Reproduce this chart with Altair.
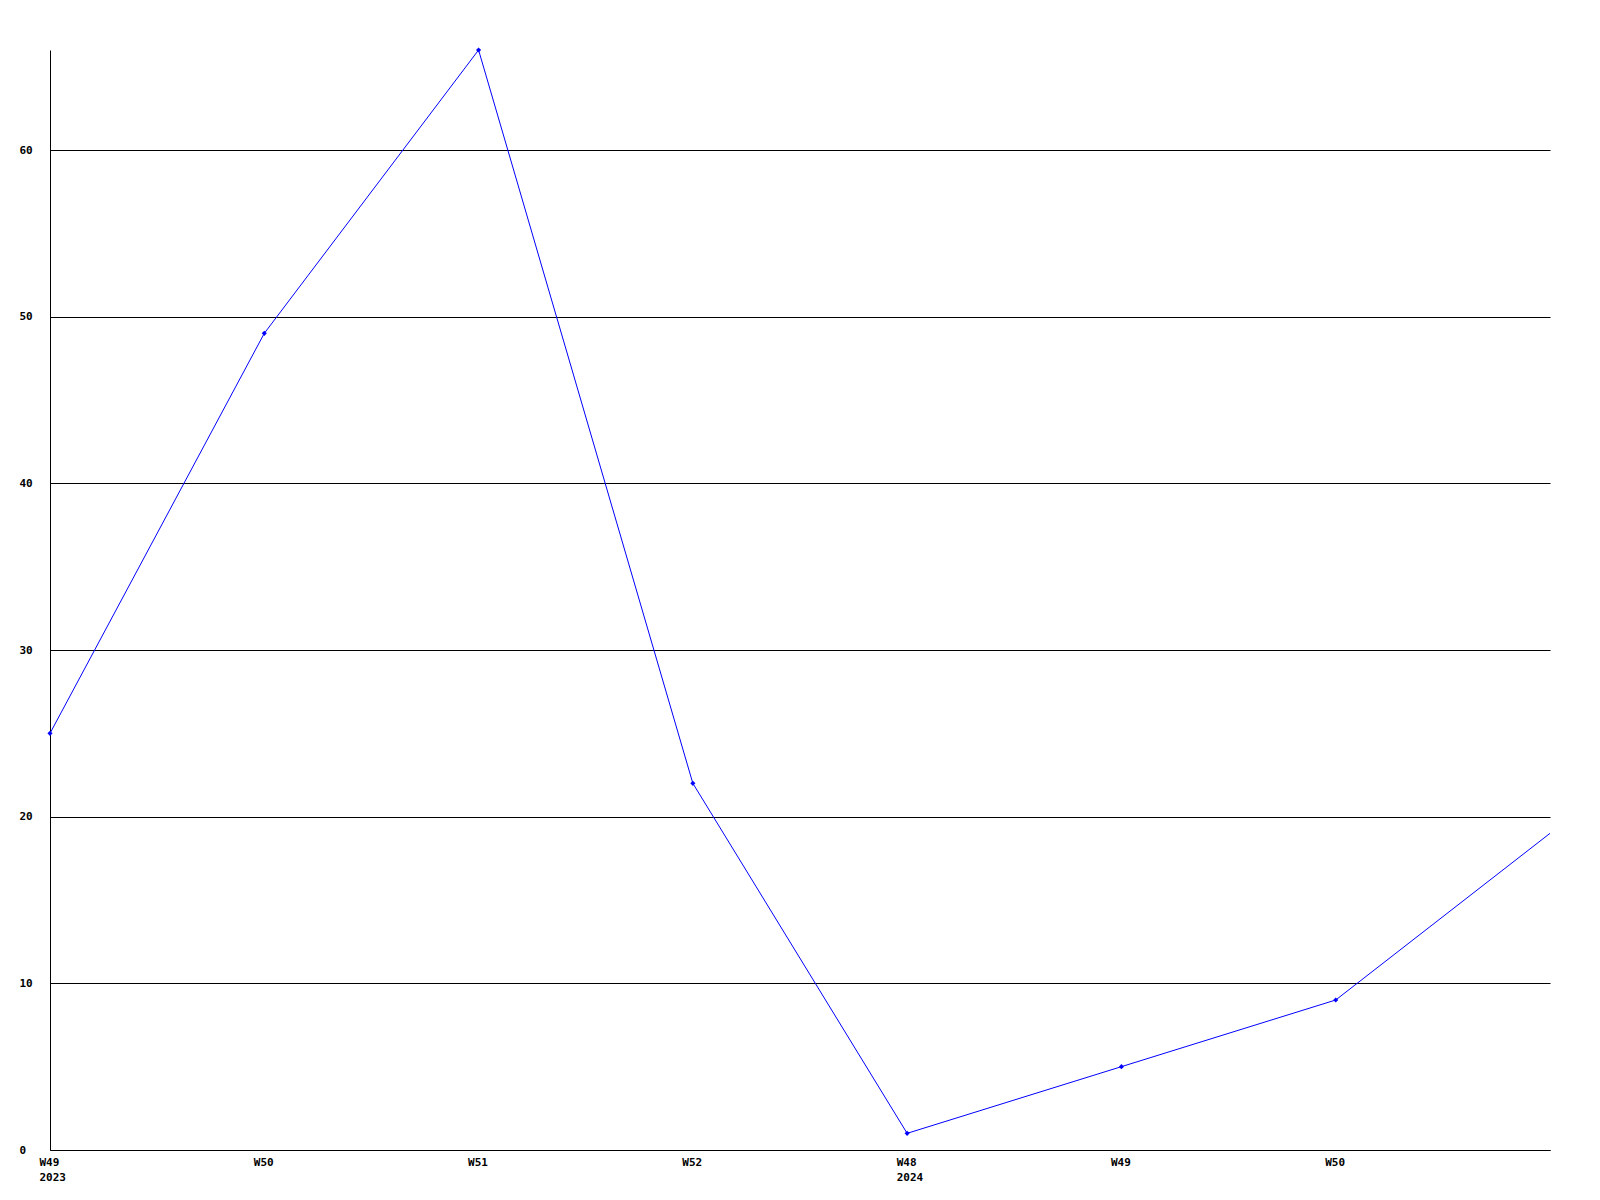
import altair as alt
import pandas as pd
import json

weeks = ["W49", "W50", "W51", "W52", "W48", "W49", "W50", "W51"]
years = ["2023", "", "", "", "2024", "", "", ""]
values = [25, 49, 66, 22, 1, 5, 9, 19]

df = pd.DataFrame({"idx": list(range(len(values))), "week": weeks, "year": years, "value": values})

label_arr = [[w] + ([y] if y else []) for w, y in zip(weeks, years)]
label_expr = json.dumps(label_arr).replace('"', "'") + "[datum.value]"

FONT = "DejaVu Sans Mono"

x = alt.X(
    "idx:Q",
    scale=alt.Scale(domain=[0, 7], nice=False, zero=False),
    axis=alt.Axis(
        title=None, values=list(range(7)), labelExpr=label_expr,
        grid=False, ticks=False, domain=True, domainColor="black", domainWidth=1,
        labelAlign="left", labelBaseline="top", labelOffset=-11, labelPadding=6,
        labelLineHeight=15, labelFont=FONT, labelFontWeight="bold", labelFontSize=11,
        labelColor="black", labelFlush=False, labelOverlap=False,
    ),
)
y = alt.Y(
    "value:Q",
    scale=alt.Scale(domain=[0, 66], nice=False),
    axis=alt.Axis(
        title=None, values=[0, 10, 20, 30, 40, 50, 60], grid=True, gridColor="black",
        gridOpacity=1, gridWidth=1, ticks=False, domain=True, domainColor="black",
        labelAlign="left", labelBaseline="middle", labelPadding=31,
        labelFont=FONT, labelFontWeight="bold", labelFontSize=11, labelColor="black",
        labelFlush=False, labelOverlap=False,
    ),
)

base = alt.Chart(df).encode(x=x, y=y)
line = base.mark_line(color="#0000FF", strokeWidth=1)
pts = base.transform_filter("datum.idx < 7").mark_point(
    shape="diamond", filled=True, size=26, color="#0000FF", opacity=1
)

chart = (line + pts).properties(
    width=1500, height=1100,
    background="white",
    autosize=alt.AutoSizeParams(type="none"),
    padding={"left": 42, "top": 42, "right": 10, "bottom": 40},
).configure_view(stroke=None, strokeWidth=0)

chart.save("out.html", embed_options={"renderer": "svg", "actions": False})
